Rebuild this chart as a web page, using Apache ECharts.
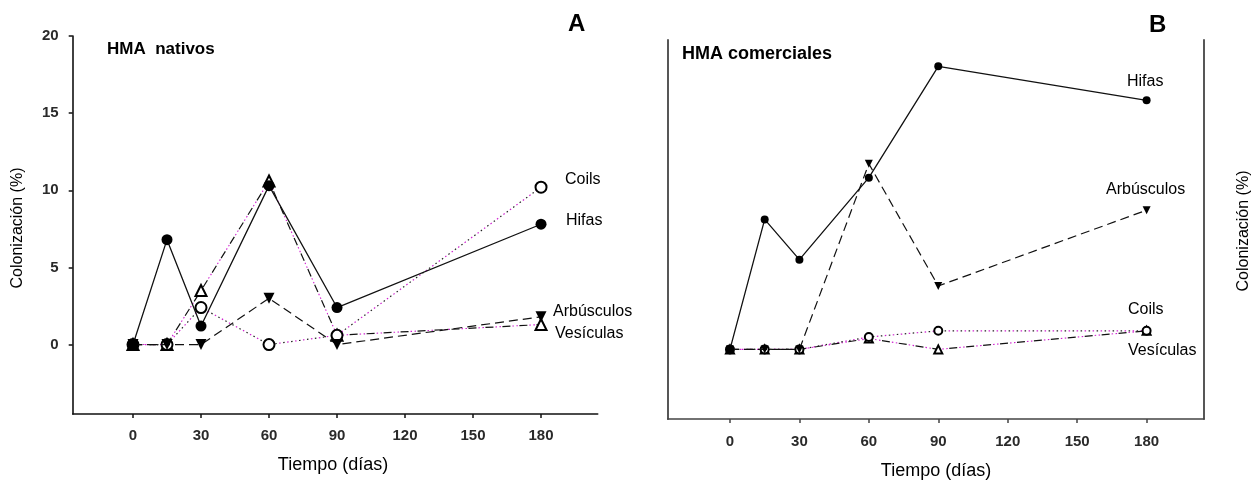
<!DOCTYPE html>
<html>
<head>
<meta charset="utf-8">
<script src="https://cdn.jsdelivr.net/npm/echarts@6/dist/echarts.min.js"></script>
<style>
  html, body { margin: 0; padding: 0; background: #fff; }
  #chart { width: 1256px; height: 483px; }
</style>
</head>
<body>
<div id="chart"></div>
<script>
// Sampling days and axis ticks
const dias = [0, 15, 30, 60, 90, 180];
const ticksDias = [0, 30, 60, 90, 120, 150, 180];
const ticksColonizacion = [0, 5, 10, 15, 20];

// Panel A: native AMF (% colonization)
const nativosHifas      = [0, 6.8, 1.2, 10.3, 2.4, 7.8];
const nativosCoils      = [0, 0, 2.4, 0, 0.6, 10.2];
const nativosVesiculas  = [0, 0, 3.5, 10.6, 0.6, 1.3];
const nativosArbusculos = [0, 0, 0, 3.0, 0, 1.8];

// Panel B: commercial AMF (% colonization)
const comercialesHifas      = [0, 8.4, 5.8, 11.1, 18.3, 16.1];
const comercialesCoils      = [0, 0, 0, 0.8, 1.2, 1.2];
const comercialesVesiculas  = [0, 0, 0, 0.7, 0, 1.2];
const comercialesArbusculos = [0, 0, 0, 12.0, 4.1, 9.0];

const FONT = '"Liberation Sans", Arial, sans-serif';
const MAGENTA = '#d020d0';
const TICK_LABEL = { fontFamily: FONT, fontSize: 15, fontWeight: 'bold', color: '#2a2a2a' };

const pairs = (ys) => dias.map((d, i) => [d, ys[i]]);

function xAxisFor(grid, min, max, margin, color) {
  return {
    type: 'value', gridIndex: grid, min: min, max: max,
    splitLine: { show: false },
    axisLine: { show: true, onZero: false, lineStyle: { color: color, width: 1.6 } },
    axisTick: { show: true, customValues: ticksDias, length: 4, lineStyle: { color: color, width: 1.5 } },
    axisLabel: Object.assign({ customValues: ticksDias, margin: margin }, TICK_LABEL)
  };
}

function seriesSet(grid, sz, hifas, coils, vesic, arb) {
  const base = { type: 'line', xAxisIndex: grid, yAxisIndex: grid === 0 ? 0 : 1, symbolSize: sz, animation: false };
  return [
    // Vesículas: dash-dot-dot, black dashes with magenta dots
    Object.assign({}, base, {
      name: 'Vesículas-dots', data: pairs(vesic), showSymbol: false, silent: true, z: 1,
      lineStyle: { color: MAGENTA, width: 1.1, type: [1.5, 2.5, 1.5, 11.5], dashOffset: 7 }
    }),
    Object.assign({}, base, {
      name: 'Vesículas', data: pairs(vesic), symbol: 'emptyTriangle', z: 3,
      itemStyle: { color: '#000', borderWidth: 1.5 },
      lineStyle: { color: '#111', width: 1.2, type: [8, 9] }
    }),
    // Coils: dotted, alternating black and magenta dots
    Object.assign({}, base, {
      name: 'Coils-dots', data: pairs(coils), showSymbol: false, silent: true, z: 1,
      lineStyle: { color: MAGENTA, width: 1.2, type: [1.5, 6.5], dashOffset: 4 }
    }),
    Object.assign({}, base, {
      name: 'Coils', data: pairs(coils), symbol: 'emptyCircle', z: 3,
      itemStyle: { color: '#000', borderWidth: 1.5 },
      lineStyle: { color: '#222', width: 1.2, type: [1.5, 6.5] }
    }),
    // Arbúsculos: long dashes, filled down-pointing triangle
    Object.assign({}, base, {
      name: 'Arbúsculos', data: pairs(arb), symbol: 'triangle', symbolRotate: 180, z: 4,
      itemStyle: { color: '#000' },
      lineStyle: { color: '#111', width: 1.2, type: [9, 5] }
    }),
    // Hifas: solid line, filled circle
    Object.assign({}, base, {
      name: 'Hifas', data: pairs(hifas), symbol: 'circle', z: 5,
      itemStyle: { color: '#000' },
      lineStyle: { color: '#111', width: 1.3, type: 'solid' }
    })
  ];
}

function txt(x, y, text, size, opts) {
  return Object.assign({
    type: 'text', x: x, y: y, silent: true,
    style: Object.assign({
      text: text, fontFamily: FONT, fontSize: size, fill: '#000',
      textAlign: 'left', textVerticalAlign: 'middle'
    }, (opts && opts.style) || {})
  }, opts && opts.rotation ? { rotation: opts.rotation } : {});
}

const chart = echarts.init(document.getElementById('chart'), null, { renderer: 'canvas' });

chart.setOption({
  backgroundColor: '#fff',
  animation: false,
  grid: [
    { left: 72.7, right: 1256 - 597.7, top: 36, bottom: 483 - 414 },
    { left: 667.7, right: 1256 - 1204, top: 40, bottom: 483 - 419 }
  ],
  xAxis: [
    xAxisFor(0, -26.6, 205, 14, '#111'),
    xAxisFor(1, -26.9, 204.8, 15, '#444')
  ],
  yAxis: [
    {
      type: 'value', gridIndex: 0, min: -4.5, max: 20,
      splitLine: { show: false },
      axisLine: { show: true, onZero: false, lineStyle: { color: '#111', width: 1.6 } },
      axisTick: { show: true, customValues: ticksColonizacion, length: 4, lineStyle: { color: '#111', width: 1.5 } },
      axisLabel: Object.assign({ customValues: ticksColonizacion, margin: 14 }, TICK_LABEL)
    },
    {
      type: 'value', gridIndex: 1, min: -4.5, max: 20,
      splitLine: { show: false },
      axisLine: { show: true, onZero: false, lineStyle: { color: '#444', width: 1.8 } },
      axisTick: { show: false }, axisLabel: { show: false }
    },
    {
      type: 'value', gridIndex: 1, min: -4.5, max: 20, position: 'right',
      splitLine: { show: false },
      axisLine: { show: true, onZero: false, lineStyle: { color: '#444', width: 1.8 } },
      axisTick: { show: false }, axisLabel: { show: false }
    }
  ],
  series: [].concat(
    seriesSet(0, 11, nativosHifas, nativosCoils, nativosVesiculas, nativosArbusculos),
    seriesSet(1, 8, comercialesHifas, comercialesCoils, comercialesVesiculas, comercialesArbusculos)
  ),
  graphic: [
    // Panel A annotations
    txt(107, 49, 'HMA  nativos', 17, { style: { fontWeight: 'bold' } }),
    txt(568, 24, 'A', 24, { style: { fontWeight: 'bold' } }),
    txt(565, 180, 'Coils', 16),
    txt(566, 221, 'Hifas', 16),
    txt(553, 312, 'Arbúsculos', 16),
    txt(555, 334, 'Vesículas', 16),
    txt(333, 465, 'Tiempo (días)', 18, { style: { textAlign: 'center' } }),
    txt(18, 228, 'Colonización (%)', 16, { rotation: Math.PI / 2, style: { textAlign: 'center' } }),
    // Panel B annotations
    txt(682, 54.5, 'HMA comerciales', 18, { style: { fontWeight: 'bold' } }),
    txt(1149, 25, 'B', 24, { style: { fontWeight: 'bold' } }),
    txt(1127, 82, 'Hifas', 16),
    txt(1106, 190, 'Arbúsculos', 16),
    txt(1128, 309.5, 'Coils', 16),
    txt(1128, 350.5, 'Vesículas', 16),
    txt(936, 471, 'Tiempo (días)', 18, { style: { textAlign: 'center' } }),
    txt(1244, 231, 'Colonización (%)', 16, { rotation: Math.PI / 2, style: { textAlign: 'center' } })
  ]
});
</script>
</body>
</html>
